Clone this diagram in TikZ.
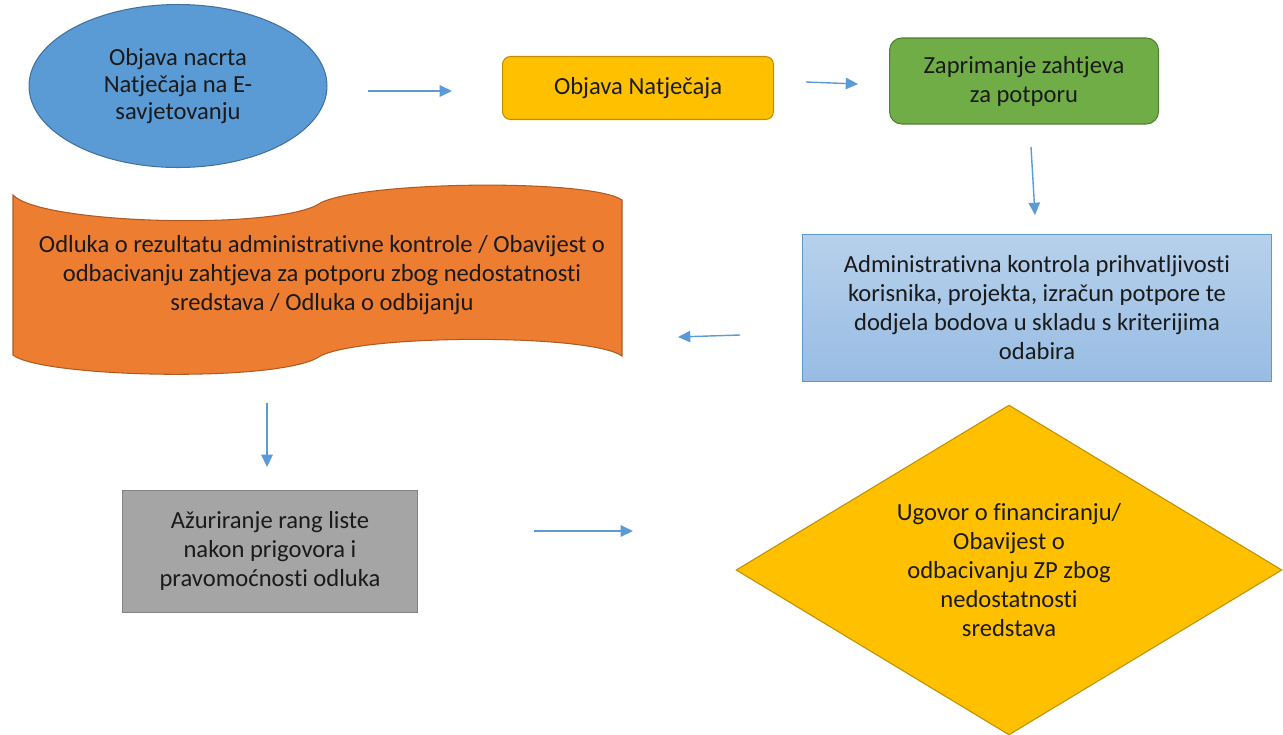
\documentclass[tikz,border=0pt]{standalone}
\usepackage{fontspec}
\setmainfont{Carlito}[Ligatures=NoCommon]
\usetikzlibrary{shapes.geometric,arrows.meta}

\definecolor{arrowblue}{HTML}{5B9BD5}
\definecolor{ellfill}{HTML}{5B9BD5}
\definecolor{elldraw}{HTML}{41719C}
\definecolor{goldfill}{HTML}{FFC000}
\definecolor{golddraw}{HTML}{BF9000}
\definecolor{greenfill}{HTML}{70AD47}
\definecolor{greendraw}{HTML}{507E32}
\definecolor{lightblue}{HTML}{B7D1EC}
\definecolor{midblue}{HTML}{98BCE3}
\definecolor{orangefill}{HTML}{ED7D31}
\definecolor{orangedraw}{HTML}{AE5A21}
\definecolor{grayfill}{HTML}{A5A5A5}
\definecolor{txt}{HTML}{1A1A1A}

\tikzset{
  box/.style={draw, line width=0.6pt, align=center, inner sep=0pt, text=txt,
    font=\fontsize{14}{16.5}\selectfont},
  flow/.style={draw=arrowblue, line width=0.8pt, -{Triangle[length=7pt,width=6.5pt]}, arrowblue},
}

\begin{document}
\begin{tikzpicture}[x=0.02cm,y=-0.02cm]
    \useasboundingbox (0,0) rectangle (1283,734);

    \node [box, ellipse, fill=ellfill, draw=elldraw, minimum width=5.96cm, minimum height=3.26cm,
        font=\fontsize{14}{15.3}\selectfont] (nacrt) at (178,86) {Objava nacrta\\Natječaja na E-\\savjetovanju};
    \node [box, rounded corners=4.5pt, fill=goldfill, draw=golddraw, minimum width=5.42cm, minimum height=1.26cm]
        (natjecaj) at (638,88) {Objava Natječaja};
    \node [box, rounded corners=7pt, fill=greenfill, draw=greendraw, minimum width=5.38cm, minimum height=1.72cm]
        (zaprimanje) at (1024,81) {Zaprimanje zahtjeva\\za potporu};
    \node [box, top color=lightblue, bottom color=midblue, draw=arrowblue, minimum width=9.38cm, minimum height=2.94cm]
        (kontrola) at (1037,308) {Administrativna kontrola prihvatljivosti\\korisnika, projekta, izračun potpore te\\dodjela bodova u skladu s kriterijima\\odabira};

    \draw [fill=orangefill, draw=orangedraw, line width=0.6pt]
        (13,195) .. controls (40,224) and (270,230) .. (317,205)
        .. controls (350,181) and (590,178) .. (622,200)
        -- (622,356)
        .. controls (590,333) and (350,334) .. (317,358)
        .. controls (270,383) and (40,377) .. (13,355) -- cycle;
    \node [box, draw=none] (odluka) at (322,275) {Odluka o rezultatu administrativne kontrole / Obavijest o\\odbacivanju zahtjeva za potporu zbog nedostatnosti\\sredstava / Odluka o odbijanju};

    \node [box, fill=grayfill, draw=grayfill!80!black, line width=0.3pt, minimum width=5.9cm, minimum height=2.44cm]
        (azuriranje) at (270,551) {Ažuriranje rang liste\\nakon prigovora i\\pravomoćnosti odluka};
    \node [box, diamond, aspect=1.65, fill=goldfill, draw=golddraw, minimum width=10.92cm, minimum height=6.6cm]
        (ugovor) at (1009,570) {Ugovor o financiranju/\\Obavijest o\\odbacivanju ZP zbog\\nedostatnosti\\sredstava};

    \coordinate (p1) at (368,91);   \coordinate (q1) at (452,91);
    \coordinate (p2) at (806,82);   \coordinate (q2) at (858,84);
    \coordinate (p3) at (1031,147); \coordinate (q3) at (1035,215);
    \coordinate (p4) at (740,335);  \coordinate (q4) at (678,337);
    \coordinate (p5) at (267,403);  \coordinate (q5) at (267,467);
    \coordinate (p6) at (534,531);  \coordinate (q6) at (633,531);

    \foreach \i in {1,...,6}
        \draw [flow] (p\i) -- (q\i);
\end{tikzpicture}
\end{document}
